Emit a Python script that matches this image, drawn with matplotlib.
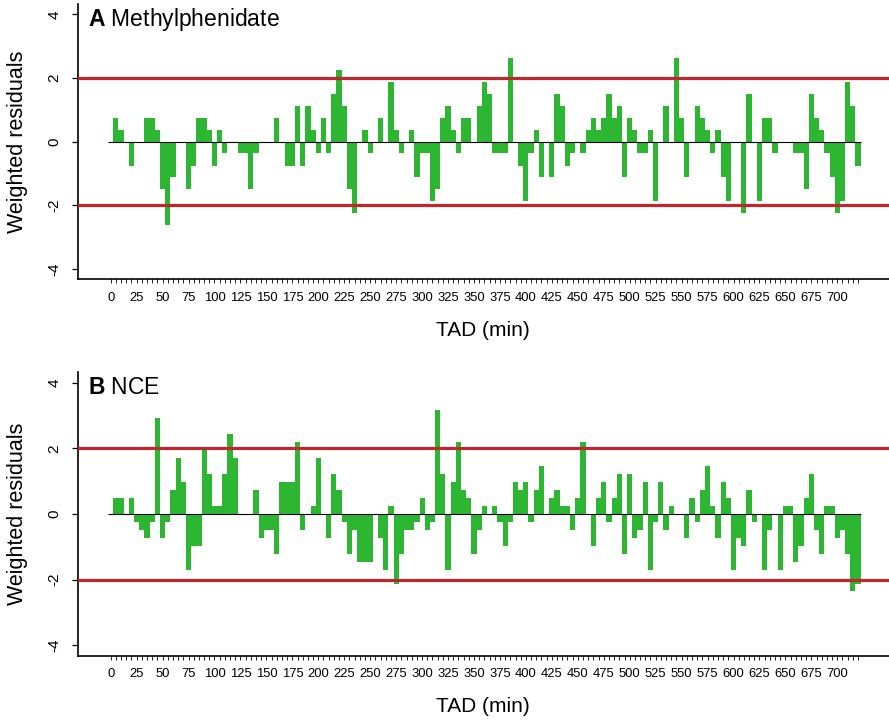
import numpy as np
import matplotlib
matplotlib.use('Agg')
import matplotlib.pyplot as plt

plt.rcParams['font.family'] = ['Liberation Sans', 'DejaVu Sans']
plt.rcParams['mathtext.fontset'] = 'custom'
plt.rcParams['mathtext.bf'] = 'Liberation Sans:bold'
plt.rcParams['mathtext.rm'] = 'Liberation Sans'

# time after dose, one bar per 5 min bin
tad = np.arange(0, 725, 5)
tick_labels = [str(t) if t % 25 == 0 and t <= 700 else '' for t in tad]

resid_methylphenidate = [
    0, 0.75, 0.37, 0, -0.75, 0, 0, 0.75, 0.75, 0.37,
    -1.5, -2.62, -1.12, 0, 0, -1.5, -0.75, 0.75, 0.75, 0.37,
    -0.75, 0.37, -0.37, 0, 0, -0.37, -0.37, -1.5, -0.37, 0,
    0, 0, 0.75, 0, -0.75, -0.75, 1.12, -0.75, 1.12, 0.37,
    -0.37, 0.75, -0.37, 1.5, 2.25, 1.12, -1.5, -2.25, 0, 0.37,
    -0.37, 0, 0.75, 0, 1.87, 0.37, -0.37, 0, 0.37, -1.12,
    -0.37, -0.37, -1.87, -1.5, 0.75, 1.12, 0.37, -0.37, 0.75, 0.75,
    0, 1.12, 1.87, 1.5, -0.37, -0.37, -0.37, 2.62, 0, -0.75,
    -1.87, -0.37, 0.37, -1.12, 0, -1.12, 1.5, 1.12, -0.75, -0.37,
    0, -0.37, 0.37, 0.75, 0.37, 0.75, 1.5, 0.75, 1.12, -1.12,
    0.75, 0.37, -0.37, -0.37, 0.37, -1.87, 0, 1.12, 0, 2.62,
    0.75, -1.12, 0, 1.12, 0.75, 0.37, -0.37, 0.37, -1.12, -1.87,
    0, 0, -2.25, 1.5, 0, -1.87, 0.75, 0.75, -0.37, 0,
    0, 0, -0.37, -0.37, -1.5, 1.5, 0.75, 0.37, -0.37, -1.12,
    -2.25, -1.87, 1.87, 1.12, -0.75,
]

resid_nce = [
    0, 0.49, 0.49, 0, 0.49, -0.24, -0.49, -0.73, -0.24, 2.92,
    -0.73, -0.24, 0.73, 1.70, 0.97, -1.70, -0.97, -0.97, 1.94, 1.22,
    0.24, 0.24, 1.22, 2.43, 1.70, 0, 0, 0, 0.73, -0.73,
    -0.49, -0.49, -1.22, 0.97, 0.97, 0.97, 2.19, -0.49, 0, 0.24,
    1.70, 0, -0.73, 1.22, 0.73, -0.24, -1.22, -0.49, -1.46, -1.46,
    -1.46, 0, -0.73, -1.70, 0.24, -2.12, -1.22, -0.49, -0.49, -0.24,
    0.49, -0.49, -0.24, 3.16, 1.22, -1.70, 0.97, 2.19, 0.73, 0.49,
    -1.22, -0.49, 0.24, 0, 0.24, -0.24, -0.97, -0.24, 0.97, 0.73,
    0.97, -0.24, 0.73, 1.46, 0, 0.49, 0.73, 0.24, 0.24, -0.49,
    0.49, 2.19, 0, -0.97, 0.49, 0.97, -0.24, 0.49, 1.22, -1.22,
    1.22, -0.73, -0.49, 0.97, -1.70, -0.24, 0.97, -0.49, 0.24, 0,
    0, -0.73, 0.49, -0.24, 0.73, 1.46, 0.24, -0.73, 0.97, 0.49,
    -1.70, -0.73, -0.97, 0.73, -0.24, 0, -1.70, -0.49, 0, -1.70,
    0.24, 0.24, -1.46, -0.97, 0.49, 1.22, -0.49, -1.22, 0.24, 0.24,
    -0.73, -0.49, -1.22, -2.34, -2.12,
]

panels = [
    ('A', 'Methylphenidate', resid_methylphenidate),
    ('B', 'NCE', resid_nce),
]

BAR_COLOR = '#2cb631'
LIMIT_COLOR = '#c0272d'

W, H = 889, 721
fig = plt.figure(figsize=(W / 100, H / 100), dpi=100)

# axes boxes in pixels: (top, bottom)
boxes = [(4.3, 279.1), (372.3, 655.7)]
left_px = 78

for (letter, name, vals), (top, bot) in zip(panels, boxes):
    ax = fig.add_axes([left_px / W, 1 - bot / H, 1 - left_px / W, (bot - top) / H])
    ax.bar(tad, vals, width=5, color=BAR_COLOR, linewidth=0, zorder=2)
    ax.hlines(0, tad[0] - 2.5, tad[-1] + 2.5, color='black', linewidth=0.8, zorder=3)
    for lim in (2, -2):
        ax.axhline(lim, color=LIMIT_COLOR, linewidth=2.3, zorder=4)

    ax.set_xlim(-31.5, 749.8)
    ax.set_ylim(-4.32, 4.32)
    ax.set_yticks([-4, -2, 0, 2, 4])
    ax.set_yticklabels(['-4', '-2', '0', '2', '4'])
    ax.set_xticks(tad)
    ax.set_xticklabels(tick_labels)

    ax.spines['top'].set_visible(False)
    ax.spines['right'].set_visible(False)
    for s in ('left', 'bottom'):
        ax.spines[s].set_linewidth(1.2)

    ax.tick_params(axis='x', length=3, width=0.6, pad=6, labelsize=9.4)
    ax.tick_params(axis='y', length=4, width=0.9, pad=8, labelsize=11, labelrotation=90)
    for lbl in ax.get_yticklabels():
        lbl.set_va('center')

    ax.text(0.0123, 0.945, r'$\mathbf{%s}$ %s' % (letter, name), transform=ax.transAxes,
            fontsize=16.5, ha='left', va='center')

    mid = (top + bot) / 2
    fig.text(18 / W, 1 - mid / H, 'Weighted residuals', rotation=90,
             ha='center', va='center', fontsize=15.5)
    fig.text(483 / W, 1 - (bot + 51) / H, 'TAD (min)', ha='center', va='center', fontsize=15)

fig.savefig('out.png', dpi=100)
